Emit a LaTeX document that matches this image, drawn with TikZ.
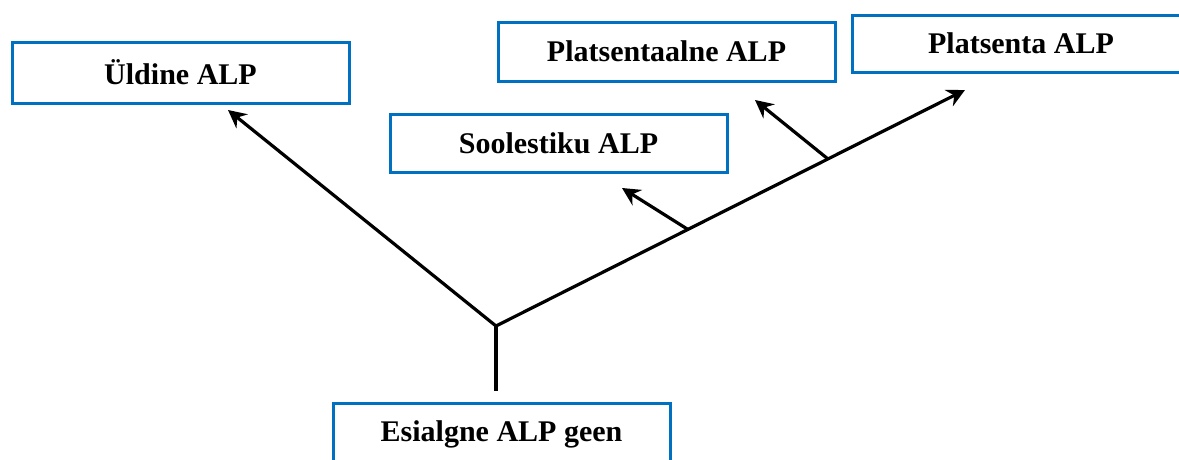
\documentclass[tikz,border=0pt]{standalone}
\usepackage{fontspec}
\setmainfont{Liberation Serif}
\usetikzlibrary{arrows.meta}
\definecolor{boxblue}{RGB}{0,112,192}
\begin{document}
\begin{tikzpicture}[x=0.5pt,y=-0.5pt,
  labelbox/.style={draw=boxblue, line width=1.5pt, fill=white, inner sep=0pt,
    minimum width=168.5pt, font=\fontsize{15}{18}\selectfont\bfseries},
  branch/.style={line width=1.6pt, draw=black},
  arr/.style={branch, -{Stealth[length=9pt,width=9pt,inset=3pt]}}]
\useasboundingbox (0,0) rectangle (1179,460);
\node[labelbox, minimum height=30.5pt] (uld) at (180.5,73.5) {\raisebox{1pt}{Üldine ALP}};
\node[labelbox, minimum height=29.5pt] (plt) at (666.5,52.5) {\raisebox{1pt}{Platsentaalne ALP}};
\node[labelbox, minimum height=28.5pt, minimum width=169pt] (pla) at (1021,44.5) {\raisebox{1pt}{Platsenta ALP}};
\node[labelbox, minimum height=29pt] (soo) at (558.5,144) {\raisebox{1pt}{Soolestiku ALP}};
\node[labelbox, minimum height=31.5pt] (esi) at (501.5,434.5) {Esialgne ALP geen};
\coordinate (base) at (496,391);
\coordinate (j) at (496,326);
\coordinate (tU) at (228,110);
\coordinate (tP) at (965,90);
\coordinate (bS) at (688,229.5);
\coordinate (bP) at (828,159);
\coordinate (tS) at (622,188);
\coordinate (tPl) at (755,100);
\draw[branch] (base) -- (j);
\draw[arr] (j) -- (tU);
\draw[arr] (j) -- (tP);
\draw[arr] (bS) -- (tS);
\draw[arr] (bP) -- (tPl);
\end{tikzpicture}
\end{document}
